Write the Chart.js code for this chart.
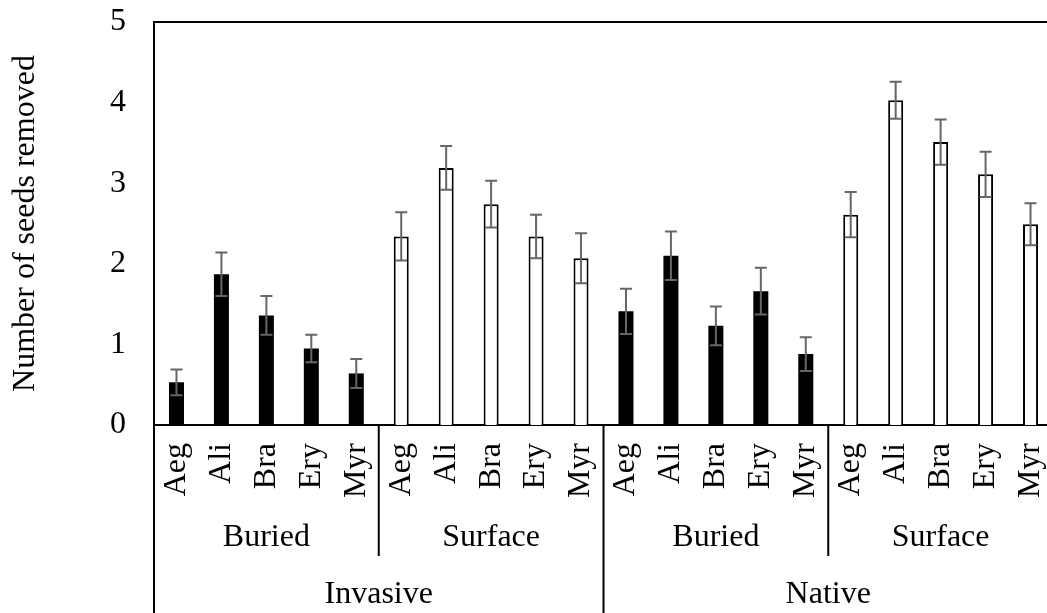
<!DOCTYPE html>
<html lang="en">
<head>
    <meta charset="UTF-8">
    <title>Number of seeds removed</title>
    <style>
        body {
            margin: 0;
            overflow: hidden;
            background: #fff;
        }
    </style>
</head>
<body>
    <canvas id="seedChart" width="1053" height="613"></canvas>

    <script src="https://cdn.jsdelivr.net/npm/chart.js"></script>
    <script>
        // Datos
        const species = ['Aeg', 'Ali', 'Bra', 'Ery', 'Myr'];
        const treatments = ['Buried', 'Surface'];
        const origins = ['Invasive', 'Native'];

        const invasiveBuried = [0.53, 1.87, 1.36, 0.95, 0.64];
        const invasiveBuriedErr = [0.16, 0.27, 0.24, 0.17, 0.18];
        const invasiveSurface = [2.34, 3.19, 2.74, 2.34, 2.07];
        const invasiveSurfaceErr = [0.30, 0.27, 0.29, 0.27, 0.31];
        const nativeBuried = [1.41, 2.10, 1.23, 1.66, 0.88];
        const nativeBuriedErr = [0.28, 0.30, 0.24, 0.29, 0.21];
        const nativeSurface = [2.61, 4.03, 3.51, 3.11, 2.49];
        const nativeSurfaceErr = [0.28, 0.23, 0.28, 0.28, 0.26];

        const fontFamily = '"Liberation Serif", "Times New Roman", serif';
        const fontSize = 32;

        const empty = species.map(() => null);
        const labels = [].concat(species, species, species, species);
        const buriedData = [].concat(invasiveBuried, empty, nativeBuried, empty);
        const surfaceData = [].concat(empty, invasiveSurface, empty, nativeSurface);
        const errors = [].concat(invasiveBuriedErr, invasiveSurfaceErr, nativeBuriedErr, nativeSurfaceErr);

        // Barras de error, bordes y etiquetas de grupo
        const decorations = {
            id: 'decorations',
            afterDatasetsDraw(chart) {
                const c = chart.ctx;
                const x = chart.scales.x;
                const y = chart.scales.y;
                c.save();
                c.strokeStyle = '#666666';
                c.lineWidth = 2;
                labels.forEach((lab, i) => {
                    const v = buriedData[i] !== null ? buriedData[i] : surfaceData[i];
                    const e = errors[i];
                    const px = x.getPixelForValue(i);
                    const top = y.getPixelForValue(v + e);
                    const bot = y.getPixelForValue(v - e);
                    c.beginPath();
                    c.moveTo(px, top); c.lineTo(px, bot);
                    c.moveTo(px - 6, top); c.lineTo(px + 6, top);
                    c.moveTo(px - 6, bot); c.lineTo(px + 6, bot);
                    c.stroke();
                });
                c.restore();
            },
            afterDraw(chart) {
                const c = chart.ctx;
                const area = chart.chartArea;
                const x = chart.scales.x;
                const n = species.length;
                const step = x.getPixelForValue(1) - x.getPixelForValue(0);
                const edge = i => x.getPixelForValue(i) - step / 2;
                c.save();
                c.strokeStyle = '#000';
                c.lineWidth = 2;
                c.beginPath();
                // borde superior
                c.moveTo(area.left, area.top); c.lineTo(chart.width, area.top);
                // eje izquierdo hasta abajo
                c.moveTo(area.left, area.top - 1); c.lineTo(area.left, chart.height);
                // separadores
                [1, 3].forEach(g => {
                    c.moveTo(edge(g * n), area.bottom); c.lineTo(edge(g * n), 556);
                });
                c.moveTo(edge(2 * n), area.bottom); c.lineTo(edge(2 * n), chart.height);
                c.stroke();

                c.fillStyle = '#000';
                c.font = fontSize + 'px ' + fontFamily;
                c.textAlign = 'center';
                c.textBaseline = 'middle';
                for (let g = 0; g < 4; g++) {
                    const cx = (edge(g * n) + edge((g + 1) * n)) / 2;
                    c.fillText(treatments[g % 2], cx, 538);
                }
                origins.forEach((o, k) => {
                    const cx = (edge(k * 2 * n) + edge((k + 1) * 2 * n)) / 2;
                    c.fillText(o, cx, 595);
                });
                c.restore();
            }
        };

        const ctx = document.getElementById('seedChart').getContext('2d');
        const seedChart = new Chart(ctx, {
            type: 'bar',
            data: {
                labels: labels,
                datasets: [{
                    label: 'Buried',
                    data: buriedData,
                    backgroundColor: '#000000',
                    borderColor: '#000000',
                    borderWidth: 0
                }, {
                    label: 'Surface',
                    data: surfaceData,
                    backgroundColor: '#ffffff',
                    borderColor: '#000000',
                    borderWidth: 2
                }]
            },
            options: {
                responsive: false,
                animation: false,
                devicePixelRatio: 1,
                grouped: false,
                barPercentage: 0.334,
                categoryPercentage: 1,
                layout: { padding: { top: 22, right: 0, left: 0, bottom: 0 } },
                plugins: {
                    legend: { display: false },
                    tooltip: { enabled: false }
                },
                scales: {
                    x: {
                        grid: { display: false, drawTicks: false },
                        border: { color: '#000', width: 2 },
                        ticks: {
                            color: '#000',
                            minRotation: 90,
                            maxRotation: 90,
                            autoSkip: false,
                            padding: 18,
                            font: { family: fontFamily, size: fontSize }
                        },
                        afterFit(scale) {
                            scale.height = 188;
                            scale.paddingLeft = 0;
                            scale.paddingRight = 0;
                        }
                    },
                    y: {
                        min: 0,
                        max: 5,
                        grid: { display: false, drawTicks: false },
                        border: { color: '#000', width: 2 },
                        ticks: {
                            stepSize: 1,
                            color: '#000',
                            padding: 28,
                            font: { family: fontFamily, size: fontSize }
                        },
                        title: {
                            display: true,
                            text: 'Number of seeds removed',
                            color: '#000',
                            padding: { top: 6, bottom: 0 },
                            font: { family: fontFamily, size: fontSize }
                        },
                        afterFit(scale) {
                            scale.width = 154;
                            scale.paddingTop = 0;
                            scale.paddingBottom = 0;
                        }
                    }
                }
            },
            plugins: [decorations]
        });
    </script>
</body>
</html>
